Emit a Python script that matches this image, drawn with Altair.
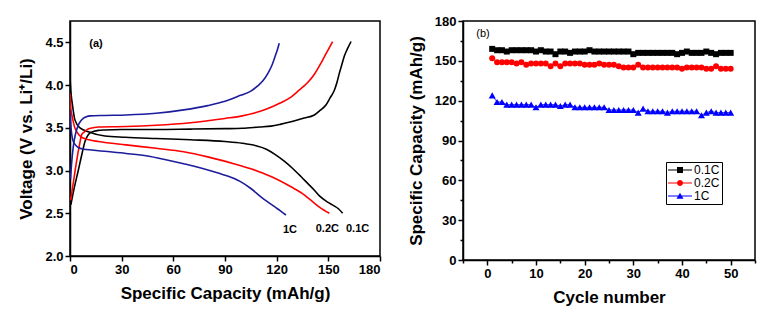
import altair as alt
import pandas as pd

# ---------------- Panel (a): charge/discharge profiles ----------------
rates = ["0.1C", "0.2C", "1C"]

cap_01_chg = [0.5, 2.5, 4.8, 7.0, 8.7, 10.0, 11.6, 14.0, 16.5, 20.0, 30.0, 50.0, 70.0, 90.0, 100.0, 110.0,
              116.7, 122.0, 128.3, 135.0, 141.9, 145.0, 148.7, 151.0, 153.5, 155.0, 156.4, 158.0, 159.3, 161.0, 163.2]
v_01_chg = [2.60, 2.80, 3.00, 3.20, 3.34, 3.40, 3.44, 3.46, 3.47, 3.475, 3.48, 3.48, 3.485, 3.49, 3.495, 3.51,
            3.52, 3.54, 3.57, 3.61, 3.65, 3.70, 3.77, 3.85, 3.94, 4.03, 4.14, 4.25, 4.34, 4.42, 4.51]
cap_01_dis = [0.0, 0.4, 1.3, 2.9, 5.8, 10.6, 20.3, 32.0, 50.0, 70.0, 90.0, 100.0, 108.0, 114.0, 119.0, 124.4,
              129.0, 134.1, 138.0, 141.9, 145.0, 149.6, 153.0, 156.0, 158.3]
v_01_dis = [4.10, 3.95, 3.79, 3.59, 3.50, 3.455, 3.405, 3.39, 3.375, 3.36, 3.34, 3.32, 3.29, 3.25, 3.19, 3.11,
            3.03, 2.93, 2.85, 2.77, 2.70, 2.63, 2.59, 2.55, 2.50]

cap_02_chg = [0.3, 1.5, 3.9, 5.5, 6.8, 8.2, 9.7, 12.0, 16.5, 32.5, 50.0, 70.0, 90.0, 100.0, 110.0, 116.7,
              122.0, 128.3, 133.0, 138.0, 142.0, 145.8, 149.0, 152.5]
v_02_chg = [2.65, 2.80, 3.12, 3.30, 3.42, 3.45, 3.475, 3.495, 3.51, 3.515, 3.53, 3.56, 3.61, 3.64, 3.69, 3.74,
            3.79, 3.86, 3.94, 4.03, 4.13, 4.26, 4.38, 4.51]
cap_02_dis = [0.0, 0.3, 1.3, 2.5, 3.9, 5.5, 7.7, 11.0, 16.5, 32.5, 50.0, 66.0, 80.0, 95.0, 105.0, 116.7,
              128.3, 135.0, 140.0, 145.0, 150.6]
v_02_dis = [3.90, 3.75, 3.63, 3.52, 3.455, 3.41, 3.38, 3.36, 3.34, 3.30, 3.26, 3.22, 3.16, 3.08, 3.02, 2.93,
            2.81, 2.73, 2.65, 2.57, 2.50]

cap_1_chg = [0.3, 0.8, 1.9, 3.2, 4.8, 6.2, 7.7, 9.5, 11.6, 20.0, 32.5, 50.0, 66.0, 80.0, 90.0, 99.0, 105.0,
             109.0, 112.0, 115.0, 117.0, 119.0, 120.5, 121.5]
v_1_chg = [2.90, 3.05, 3.28, 3.43, 3.53, 3.58, 3.61, 3.63, 3.64, 3.645, 3.65, 3.67, 3.71, 3.76, 3.81, 3.88, 3.93,
           3.99, 4.05, 4.14, 4.22, 4.33, 4.42, 4.49]
cap_1_dis = [0.0, 0.3, 0.6, 1.9, 3.2, 4.8, 8.0, 12.6, 20.0, 32.5, 45.0, 55.0, 66.0, 76.0, 86.0, 95.0, 99.0,
             105.0, 111.0, 115.0, 118.6, 122.0, 125.4]
v_1_dis = [3.71, 3.60, 3.50, 3.34, 3.30, 3.27, 3.25, 3.24, 3.225, 3.20, 3.17, 3.13, 3.08, 3.03, 2.97, 2.91, 2.87,
           2.79, 2.69, 2.63, 2.58, 2.53, 2.48]

left_colors = ["#000000", "#ff0000", "#1c1c9c"]

curves = [
    ("0.1C", "chg", cap_01_chg, v_01_chg), ("0.1C", "dis", cap_01_dis, v_01_dis),
    ("0.2C", "chg", cap_02_chg, v_02_chg), ("0.2C", "dis", cap_02_dis, v_02_dis),
    ("1C", "chg", cap_1_chg, v_1_chg), ("1C", "dis", cap_1_dis, v_1_dis),
]
rows = []
for rate, kind, cs, vs in curves:
    for i, (c, v) in enumerate(zip(cs, vs)):
        rows.append({"cap": c, "V": v, "rate": rate, "curve": rate + kind, "idx": i})
left_df = pd.DataFrame(rows)

# ---------------- Panel (b): cycling ----------------
cycles = list(range(1, 51))
cap_01 = [159, 158, 158, 157, 158, 158, 158, 158, 158, 157, 158, 157, 157, 155, 157, 157, 156, 157, 157, 157,
          158, 157, 157, 157, 157, 157, 157, 157, 157, 155, 156, 156, 156, 156, 156, 156, 156, 156, 155, 156,
          157, 156, 156, 156, 157, 156, 155, 156, 156, 156]
cap_02 = [152, 149, 149, 149, 149, 148, 149, 147, 148, 148, 148, 148, 146, 148, 146, 148, 148, 148, 148, 147,
          147, 147, 148, 147, 147, 147, 146, 145, 145, 145, 147, 145, 145, 145, 145, 145, 145, 145, 145, 144,
          145, 145, 145, 145, 144, 144, 146, 144, 144, 144]
cap_1 = [124, 119, 119, 117, 117, 117, 117, 117, 117, 115, 117, 117, 117, 117, 116, 117, 117, 115, 115, 115,
         115, 115, 115, 115, 113, 113, 113, 113, 113, 113, 111, 114, 112, 112, 112, 112, 111, 112, 112, 112,
         112, 112, 112, 109, 111, 112, 111, 111, 111, 111]
right_colors = ["#000000", "#ff0000", "#0000ff"]
right_shapes = ["square", "circle", "triangle-up"]
legend_paths = [
    "M-1,-0.09H3V0.09H-1Z M0.5,-0.5H1.5V0.5H0.5Z",
    "M-1,-0.09H3V0.09H-1Z M0.5,0A0.5,0.5 0 1,1 1.5,0A0.5,0.5 0 1,1 0.5,0Z",
    "M-1,-0.09H3V0.09H-1Z M1,-0.55L1.58,0.45L0.42,0.45Z",
]

right_df = pd.DataFrame({
    "cycle": cycles * 3,
    "cap": cap_01 + cap_02 + cap_1,
    "rate": ["0.1C"] * 50 + ["0.2C"] * 50 + ["1C"] * 50,
})

FONT = "Liberation Sans"


def make_axis(values, step, title, fmt, major=5, minor=3):
    return alt.Axis(
        values=values, title=title, format=fmt,
        labelExpr=f"datum.value % {step} === 0 ? datum.label : ''",
        tickSize={"condition": {"test": f"datum.value % {step} === 0", "value": major}, "value": minor},
        labelPadding=2, titlePadding=9,
    )


# ----- left chart -----
lx = alt.X("cap:Q", scale=alt.Scale(domain=[0, 180], nice=False, zero=False),
           axis=make_axis(list(range(0, 181, 15)), 30, "Specific Capacity (mAh/g)", "d"))
ly = alt.Y("V:Q", scale=alt.Scale(domain=[2.0, 4.75], nice=False, zero=False),
           axis=make_axis([2.0 + 0.25 * i for i in range(12)], 0.5, "Voltage (V vs. Li⁺/Li)", ".1f"))

left_lines = alt.Chart(left_df).mark_line(interpolate="monotone", strokeWidth=1.6, clip=True).encode(
    x=lx, y=ly,
    color=alt.Color("rate:N", scale=alt.Scale(domain=rates, range=left_colors), legend=None),
    detail="curve:N", order="idx:Q",
)

label_offsets = {"0.1C": (15, 16), "0.2C": (-2, 16), "1C": (4, 15)}
end_pts = {"0.1C": (cap_01_dis[-1], v_01_dis[-1]), "0.2C": (cap_02_dis[-1], v_02_dis[-1]),
           "1C": (cap_1_dis[-1], v_1_dis[-1])}
left_labels = []
for r in rates:
    c, v = end_pts[r]
    dx, dy = label_offsets[r]
    left_labels.append(
        alt.Chart(pd.DataFrame({"cap": [c], "V": [v], "t": [r]})).mark_text(
            font=FONT, fontWeight="bold", fontSize=11, dx=dx, dy=dy, color="black"
        ).encode(x="cap:Q", y="V:Q", text="t:N")
    )

tag_a = alt.Chart(pd.DataFrame({"t": ["(a)"]})).mark_text(
    font=FONT, fontWeight="bold", fontSize=11, color="black"
).encode(x=alt.value(26), y=alt.value(23), text="t:N")

left = alt.layer(left_lines, *left_labels, tag_a).properties(width=310, height=235)

# ----- right chart -----
rx = alt.X("cycle:Q", scale=alt.Scale(domain=[-5, 55], nice=False, zero=False),
           axis=make_axis(list(range(-5, 56, 5)), 10, "Cycle number", "d"))
ry = alt.Y("cap:Q", scale=alt.Scale(domain=[0, 180], nice=False, zero=False),
           axis=make_axis(list(range(0, 181, 15)), 30, "Specific Capacity (mAh/g)", "d"))

right_layers = []
for r, col, shp in zip(rates, right_colors, right_shapes):
    sub = alt.Chart(right_df).transform_filter(alt.datum.rate == r)
    right_layers.append(sub.mark_line(strokeWidth=0.8, color=col).encode(x=rx, y=ry))
    right_layers.append(sub.mark_point(shape=shp, filled=True, size=36 if shp != "triangle-up" else 49,
                                       color=col, opacity=1).encode(x=rx, y=ry))

leg = alt.Legend(orient="none", legendX=203, legendY=141, title=None, padding=2,
                 strokeColor="black", labelFont=FONT, labelFontSize=12, labelColor="black",
                 labelOffset=14, symbolSize=144, symbolOpacity=1, symbolStrokeWidth=0,
                 rowPadding=1)
# legend driver: draws no marks (filtered out); only supplies the legend from the scale domain
driver = alt.Chart(right_df).transform_filter("false").mark_point(filled=True).encode(
    x=rx, y=ry,
    color=alt.Color("rate:N", scale=alt.Scale(domain=rates, range=right_colors), legend=leg),
    shape=alt.Shape("rate:N", scale=alt.Scale(domain=rates, range=legend_paths), legend=leg),
)

tag_b = alt.Chart(pd.DataFrame({"t": ["(b)"]})).mark_text(
    font=FONT, fontSize=11, color="black"
).encode(x=alt.value(20), y=alt.value(13), text="t:N")

right = alt.layer(*right_layers, driver, tag_b).properties(width=292, height=239)

chart = alt.hconcat(left, right, spacing=83, bounds="flush").resolve_scale(
    color="independent", shape="independent"
).resolve_legend(color="independent", shape="independent").properties(
    padding={"left": 9, "top": 6, "right": 5, "bottom": 5}
).configure_view(stroke="black", strokeWidth=1.5).configure_axis(
    domainColor="black", domainWidth=1.5, tickColor="black", tickWidth=1.5, grid=False,
    labelFont=FONT, labelFontWeight="bold", labelFontSize=13, labelColor="black",
    titleFont=FONT, titleFontWeight="bold", titleFontSize=17, titleColor="black",
)

chart.save("out.html", embed_options={"renderer": "svg", "actions": False})
